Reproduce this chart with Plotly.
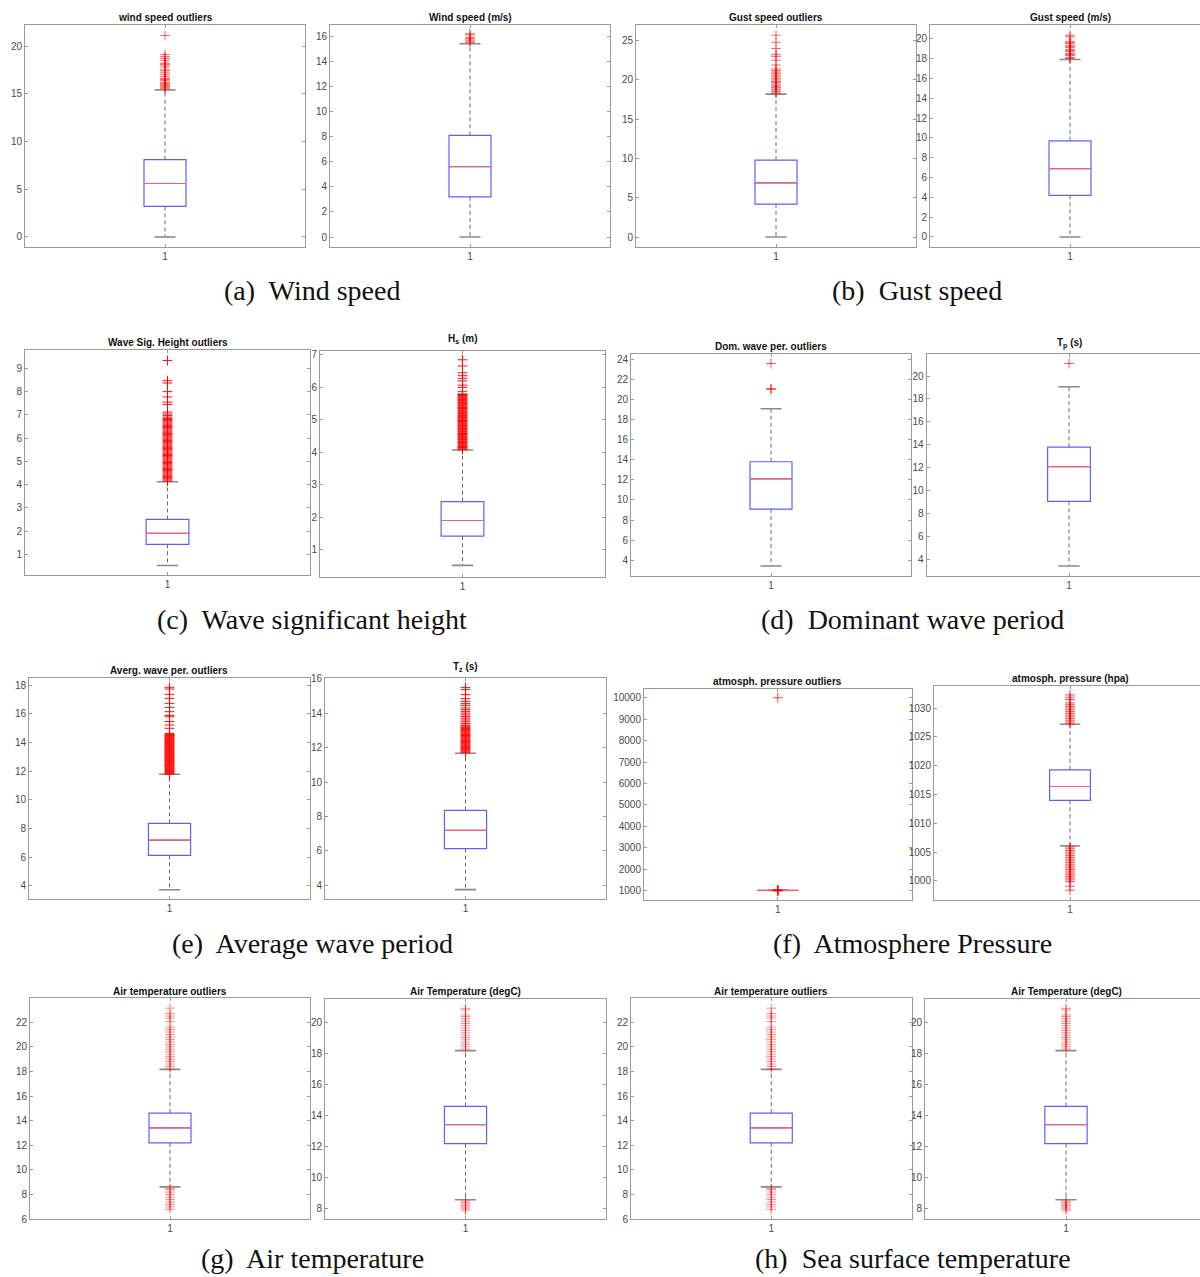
import plotly.graph_objects as go

W, H = 1200, 1277

# ---------------- data ----------------
panel_titles = [
    "wind speed outliers", "Wind speed (m/s)", "Gust speed outliers", "Gust speed (m/s)",
    "Wave Sig. Height outliers", "H<sub>s</sub> (m)", "Dom. wave per. outliers", "T<sub>p</sub> (s)",
    "Averg. wave per. outliers", "T<sub>z</sub> (s)", "atmosph. pressure outliers", "atmosph. pressure (hpa)",
    "Air temperature outliers", "Air Temperature (degC)", "Air temperature outliers", "Air Temperature (degC)",
]
captions = ["(a)\u00a0 Wind speed", "(b)\u00a0 Gust speed", "(c)\u00a0 Wave significant height",
            "(d)\u00a0 Dominant wave period", "(e)\u00a0 Average wave period", "(f)\u00a0 Atmosphere Pressure",
            "(g)\u00a0 Air temperature", "(h)\u00a0 Sea surface temperature"]
category_labels = ["1"]

q1 = [3.2, 3.2, 4.2, 4.2, 1.43, 1.42, 9.1, 9.08, 6.14, 6.13, 1014.0, 1014.0, 12.2, 12.2, 12.2, 12.2]
median = [5.6, 5.6, 6.9, 6.9, 1.9, 1.9, 12.1, 12.1, 7.2, 7.19, 1016.4, 1016.4, 13.42, 13.42, 13.42, 13.42]
q3 = [8.1, 8.1, 9.8, 9.7, 2.5, 2.48, 13.8, 13.8, 8.37, 8.35, 1019.3, 1019.3, 14.62, 14.6, 14.62, 14.6]
whisker_lo = [0.0, 0.0, 0.0, 0.0, 0.52, 0.52, 3.45, 3.45, 3.74, 3.75, 1006.1, 1006.1, 8.62, 8.58, 8.62, 8.58]
whisker_hi = [15.4, 15.4, 18.2, 17.9, 4.12, 4.07, 19.06, 19.06, 11.79, 11.67, 1027.2, 1027.2, 18.17, 18.2, 18.17, 18.2]

wind_out_a = [15.5, 15.6, 15.7, 15.8, 15.9, 16.0, 16.1, 16.2, 16.4, 16.5, 16.6, 16.8, 17.0, 17.2, 17.4,
              17.5, 17.8, 18.0, 18.1, 18.2, 18.5, 18.7, 18.9, 19.1, 21.1]
wind_out_b = [15.5, 15.6, 15.7, 15.8, 15.9, 16.1, 16.2]
gust_out_a = [18.3, 18.5, 18.6, 18.8, 19.0, 19.1, 19.3, 19.5, 19.7, 19.8, 20.0, 20.2, 20.4, 20.6, 20.8,
              21.0, 21.2, 21.4, 21.9, 22.5, 23.0, 23.25, 24.0, 24.8, 25.7]
gust_out_b = [18.0, 18.1, 18.3, 18.4, 18.5, 18.7, 18.8, 18.9, 19.1, 19.2, 19.3, 19.5, 19.6, 19.7, 20.2, 20.35]
hs_out_a = [4.15, 4.2, 4.25, 4.3, 4.35, 4.4, 4.45, 4.5, 4.55, 4.6, 4.65, 4.7, 4.75, 4.8, 4.85, 4.9, 4.95,
            5.0, 5.05, 5.1, 5.15, 5.2, 5.25, 5.3, 5.35, 5.4, 5.45, 5.5, 5.55, 5.6, 5.65, 5.7, 5.75, 5.8,
            5.85, 5.9, 5.95, 6.0, 6.05, 6.1, 6.15, 6.2, 6.25, 6.3, 6.35, 6.4, 6.45, 6.5, 6.55, 6.6, 6.65,
            6.7, 6.75, 6.8, 6.85, 6.9, 6.97, 7.04, 7.12, 7.45, 7.55, 7.77, 8.0, 8.37, 8.47, 9.34]
hs_out_b = [4.08, 4.1, 4.13, 4.15, 4.18, 4.2, 4.23, 4.25, 4.28, 4.3, 4.33, 4.35, 4.38, 4.4, 4.43, 4.45,
            4.48, 4.5, 4.53, 4.55, 4.58, 4.6, 4.63, 4.65, 4.68, 4.7, 4.73, 4.75, 4.78, 4.8, 4.83, 4.85,
            4.88, 4.9, 4.93, 4.95, 4.98, 5.0, 5.03, 5.05, 5.08, 5.1, 5.13, 5.15, 5.18, 5.2, 5.23, 5.25,
            5.28, 5.3, 5.33, 5.35, 5.38, 5.4, 5.43, 5.45, 5.48, 5.5, 5.53, 5.55, 5.58, 5.6, 5.63, 5.65,
            5.68, 5.7, 5.73, 5.75, 5.78, 5.8, 5.88, 6.0, 6.07, 6.2, 6.28, 6.36, 6.45, 6.66, 6.85]
dom_out_a = [21.0, 21.05, 23.55]
dom_out_b = [21.1]
avg_out_a = [11.8, 11.85, 11.9, 11.95, 12.0, 12.05, 12.1, 12.15, 12.2, 12.25, 12.3, 12.35, 12.4, 12.45,
             12.5, 12.55, 12.6, 12.65, 12.7, 12.75, 12.8, 12.85, 12.9, 12.95, 13.0, 13.05, 13.1, 13.15,
             13.2, 13.25, 13.3, 13.35, 13.4, 13.45, 13.5, 13.55, 13.6, 13.65, 13.7, 13.75, 13.8, 13.85,
             13.9, 13.95, 14.0, 14.05, 14.1, 14.15, 14.2, 14.25, 14.3, 14.35, 14.4, 14.45, 14.5, 14.55,
             14.6, 14.65, 15.0, 15.23, 15.47, 15.8, 15.9, 16.16, 16.46, 16.74, 17.09, 17.37, 17.74, 17.86]
avg_out_b = [11.7, 11.75, 11.8, 11.85, 11.9, 11.95, 12.0, 12.05, 12.1, 12.15, 12.2, 12.25, 12.3, 12.35,
             12.4, 12.45, 12.5, 12.55, 12.6, 12.65, 12.7, 12.75, 12.8, 12.85, 12.9, 12.95, 13.0, 13.05,
             13.1, 13.15, 13.2, 13.25, 13.3, 13.4, 13.5, 13.6, 13.7, 13.8, 13.9, 14.0, 14.1, 14.2, 14.3,
             14.45, 14.55, 14.68, 14.84, 15.07, 15.36, 15.48]
pres_out_a = [10000.0, 998.4, 1000.0, 1003.0, 1006.0, 1027.5, 1030.0, 1032.3]
pres_out_b = [998.4, 999.1, 999.9, 1000.2, 1000.5, 1000.8, 1001.1, 1001.4, 1001.7, 1002.0, 1002.3,
              1002.6, 1002.9, 1003.2, 1003.5, 1003.8, 1004.1, 1004.4, 1004.7, 1005.0, 1005.3, 1005.6,
              1005.9, 1027.3, 1027.6, 1027.9, 1028.2, 1028.5, 1028.8, 1029.1, 1029.4, 1029.7, 1030.0,
              1030.3, 1030.6, 1030.9, 1031.5, 1031.9, 1032.3]
air_out_a = [6.8, 7.0, 7.2, 7.4, 7.6, 7.8, 8.0, 8.2, 8.4, 8.5, 18.2, 18.4, 18.6, 18.8, 19.0, 19.2, 19.4,
             19.6, 19.8, 20.0, 20.2, 20.4, 20.6, 20.8, 21.0, 21.2, 21.4, 21.6, 22.05, 22.33, 22.5, 22.7, 23.14]
air_out_b = [7.9, 8.0, 8.1, 8.2, 8.3, 8.4, 8.5, 18.3, 18.45, 18.6, 18.75, 18.9, 19.05, 19.2, 19.35, 19.5,
             19.65, 19.8, 19.95, 20.1, 20.25, 20.4, 20.5, 20.83, 20.93]
sst_out_a = air_out_a
sst_out_b = air_out_b

outliers = [wind_out_a, wind_out_b, gust_out_a, gust_out_b, hs_out_a, hs_out_b, dom_out_a, dom_out_b,
            avg_out_a, avg_out_b, pres_out_a, pres_out_b, air_out_a, air_out_b, sst_out_a, sst_out_b]

# ---------------- layout geometry (pixels) ----------------
# left, right(visible), top, bottom, full axis width, y range, dtick, title y
geom = [
    (25, 305, 25, 247, 280, (-1.05, 22.2), 5, 18),
    (330, 610, 24.5, 246.7, 280, (-0.77, 16.93), 2, 17),
    (636, 916, 25.3, 246.7, 280, (-1.23, 26.96), 5, 18),
    (930, 1200, 25.3, 246.7, 280, (-0.98, 21.35), 2, 18),
    (25, 310, 350, 575.3, 285, (0.097, 9.79), 1, 342.5),
    (320, 605, 350.7, 576.7, 285, (0.17, 7.13), 1, 339),
    (631, 911, 354, 575.7, 280, (2.48, 24.5), 2, 346.5),
    (926.5, 1200, 354, 576.3, 285, (2.55, 21.92), 2, 343),
    (29, 310, 677.7, 899.3, 281, (3.07, 18.53), 2, 670.5),
    (325, 606, 678.3, 899.3, 281, (3.19, 16.02), 2, 667),
    (644, 911.5, 688.7, 900, 267.5, (566, 10420), 1000, 681.5),
    (934, 1200, 685.7, 900, 272, (996.7, 1033.9), 5, 679),
    (30, 310, 998.3, 1219.3, 280, (5.99, 23.94), 2, 991.5),
    (325, 606, 999.3, 1219.3, 281, (7.32, 21.51), 2, 991.5),
    (631, 911.5, 998.3, 1219.3, 280.5, (5.99, 23.94), 2, 991.5),
    (925, 1200, 999.3, 1219.3, 282, (7.32, 21.51), 2, 991.5),
]
caption_pos = [(312, 290), (917, 290), (312, 619), (912, 619), (312, 943), (912, 943), (313, 1258), (913, 1258)]
outlier_alpha = [0.6, 0.6, 0.6, 0.6, 0.95, 0.95, 0.7, 0.7, 0.95, 0.95, 0.7, 0.7, 0.45, 0.45, 0.45, 0.45]

pos = 1.0
box_w = 0.15
cap_half = 0.0375

axis_col = "#9a9a9a"
tick_font = dict(family="Liberation Sans, Arial, sans-serif", size=10, color="#4a4a4a")

fig = go.Figure()
layout = dict(
    template="none",
    width=W, height=H, margin=dict(l=0, r=0, t=0, b=0, pad=0, autoexpand=False),
    paper_bgcolor="white", plot_bgcolor="white", showlegend=False,
    annotations=[],
)

for i in range(16):
    sfx = "" if i == 0 else str(i + 1)
    xa, ya = "x" + sfx, "y" + sfx
    left, right, top, bottom, fullw, yr, dt, ty = geom[i]
    cut_off = right >= W  # right border of these panels falls outside the page

    layout["xaxis" + sfx] = dict(
        domain=[left / W, min(right / W, 1.0)], anchor=ya, automargin=False,
        range=[0.5, 0.5 + (right - left) / fullw],
        tickmode="array", tickvals=[pos], ticktext=category_labels,
        ticks="inside", ticklen=3, tickcolor=axis_col, showline=True, linecolor=axis_col,
        linewidth=1, mirror="ticks", showgrid=False, zeroline=False, tickfont=tick_font,
        fixedrange=True,
    )
    layout["yaxis" + sfx] = dict(
        domain=[1 - bottom / H, 1 - top / H], anchor=xa, automargin=False,
        range=list(yr), dtick=dt, tick0=0, tickformat="d",
        ticks="inside", ticklen=3, tickcolor=axis_col, showline=True, linecolor=axis_col,
        linewidth=1, mirror=False if cut_off else "ticks", showgrid=False, zeroline=False,
        tickfont=tick_font, fixedrange=True,
    )

    # box body
    fig.add_trace(go.Box(
        x=[pos], q1=[q1[i]], median=[median[i]], q3=[q3[i]],
        lowerfence=[q1[i]], upperfence=[q3[i]],
        width=box_w, whiskerwidth=0, boxpoints=False,
        line=dict(color="rgb(95,95,255)", width=1.2), fillcolor="rgba(0,0,0,0)",
        xaxis=xa, yaxis=ya, hoverinfo="skip",
    ))
    # whiskers (dashed)
    fig.add_trace(go.Scatter(
        x=[pos, pos, None, pos, pos], y=[q3[i], whisker_hi[i], None, q1[i], whisker_lo[i]],
        mode="lines", line=dict(color="#6a6a6a", width=1, dash="4px,3px"),
        xaxis=xa, yaxis=ya, hoverinfo="skip",
    ))
    # whisker caps
    fig.add_trace(go.Scatter(
        x=[pos - cap_half, pos + cap_half, None, pos - cap_half, pos + cap_half],
        y=[whisker_hi[i], whisker_hi[i], None, whisker_lo[i], whisker_lo[i]],
        mode="lines", line=dict(color="#8a8a8a", width=1.6),
        xaxis=xa, yaxis=ya, hoverinfo="skip",
    ))
    # median
    fig.add_trace(go.Scatter(
        x=[pos - box_w / 2, pos + box_w / 2], y=[median[i], median[i]],
        mode="lines", line=dict(color="rgb(255,95,95)", width=1.2),
        xaxis=xa, yaxis=ya, hoverinfo="skip",
    ))
    # outliers
    fig.add_trace(go.Scatter(
        x=[pos] * len(outliers[i]), y=outliers[i], mode="markers",
        marker=dict(symbol="cross-thin", size=7,
                    line=dict(color=f"rgba(255,0,0,{outlier_alpha[i]})", width=1)),
        xaxis=xa, yaxis=ya, hoverinfo="skip",
    ))

    layout["annotations"].append(dict(
        text="<b>" + panel_titles[i] + "</b>", xref="paper", yref="paper",
        x=(left + fullw / 2) / W, y=1 - ty / H, xanchor="center", yanchor="middle",
        showarrow=False, font=dict(family="Liberation Sans, Arial, sans-serif", size=10, color="#111"),
    ))

for c, (cx, cy) in zip(captions, caption_pos):
    layout["annotations"].append(dict(
        text=c, xref="paper", yref="paper", x=cx / W, y=1 - cy / H,
        xanchor="center", yanchor="middle", showarrow=False, borderpad=0,
        font=dict(family="Liberation Serif, Times New Roman, serif", size=28, color="#111"),
    ))

fig.update_layout(**layout)
fig.write_html("out.html", config={"displayModeBar": False},
               post_script="document.body.style.margin='0';document.body.style.overflow='hidden';")
